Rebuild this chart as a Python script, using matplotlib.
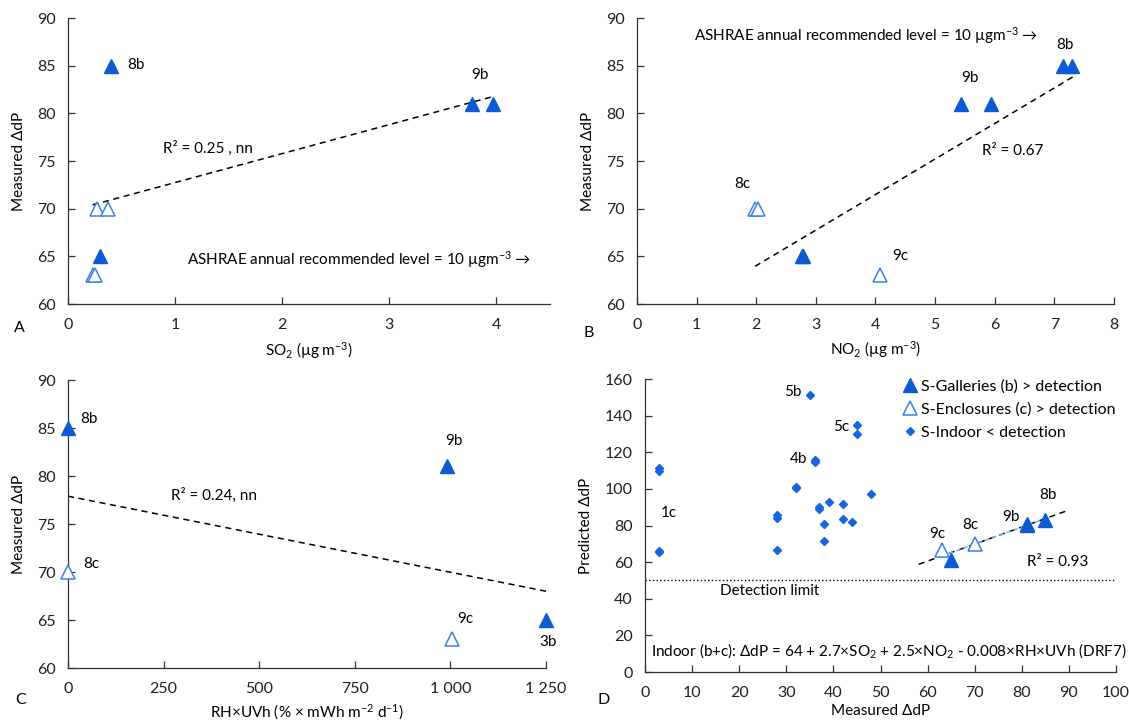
import numpy as np
import matplotlib
matplotlib.use("Agg")
import matplotlib.pyplot as plt
from matplotlib.lines import Line2D

plt.rcParams['font.family'] = ['Lato', 'DejaVu Sans']
plt.rcParams['font.size'] = 11
plt.rcParams['mathtext.fontset'] = 'custom'
plt.rcParams['mathtext.rm'] = 'Lato'
plt.rcParams['mathtext.it'] = 'Lato:italic'
plt.rcParams['mathtext.bf'] = 'Lato:bold'

# ---- data ----
# A: SO2 vs measured dP
a_b_so2 = [0.40, 3.77, 3.97, 0.30]
a_b_dp = [85, 81, 81, 65]
a_c_so2 = [0.27, 0.37, 0.23, 0.25]
a_c_dp = [70, 70, 63, 63]
a_trend_x = [0.23, 3.98]
a_trend_y = [70.4, 81.8]

# B: NO2 vs measured dP
b_b_no2 = [7.14, 7.29, 5.44, 5.94, 2.76, 2.78]
b_b_dp = [85, 85, 81, 81, 65, 65]
b_c_no2 = [1.98, 2.03, 4.07]
b_c_dp = [70, 70, 63]
b_trend_x = [1.98, 7.32]
b_trend_y = [63.95, 83.86]

# C: RH x UVh vs measured dP
c_b_rh = [0, 991, 1250]
c_b_dp = [85, 81, 65]
c_c_rh = [0, 1005]
c_c_dp = [70, 63]
c_trend_x = [0, 1250]
c_trend_y = [77.9, 68.0]
c_ticks = [0, 250, 500, 750, 1000, 1250]
c_ticklabels = ['0', '250', '500', '750', '1 000', '1 250']

# D: measured vs predicted dP
d_b_meas = [65, 81, 81, 85]
d_b_pred = [61.3, 80.3, 80.8, 83.2]
d_c_meas = [63, 70]
d_c_pred = [66.8, 70.1]
d_in_meas = [3, 3, 3, 3, 35, 45, 45, 36, 36, 32, 32, 48, 28, 28, 28,
             37, 37, 39, 42, 42, 38, 38, 44]
d_in_pred = [111.5, 109.5, 66, 65.3, 151, 135, 130, 116, 114.7, 101, 100.6, 97,
             86, 84.3, 66.8, 90.2, 89, 93, 91.6, 83.5, 80.6, 71.4, 81.7]
d_trend_x = [58.1, 89.4]
d_trend_y = [58.8, 87.9]
detection = 50

blue = '#0b5bd8'
blue_open = '#3c7fe8'
blue_dia = '#1464e6'
axc = '#303030'


def style(ax):
    ax.spines['top'].set_visible(False)
    ax.spines['right'].set_visible(False)
    for s in ['left', 'bottom']:
        ax.spines[s].set_color(axc)
        ax.spines[s].set_linewidth(0.9)
    ax.tick_params(direction='in', length=5, width=0.9, color=axc, labelsize=11.5,
                   labelcolor='#202020')
    ax.tick_params(axis='x', pad=10)
    ax.tick_params(axis='y', pad=9)


def filled(ax, x, y):
    ax.plot(x, y, '^', color=blue, ms=10, mec=blue, ls='none', clip_on=False, zorder=3)


def opened(ax, x, y):
    ax.plot(x, y, '^', mfc='white', mec=blue_open, mew=1.1, ms=10, ls='none',
            clip_on=False, zorder=3)


def trend(ax, x, y):
    ax.plot(x, y, color='black', ls=(0, (4, 3)), lw=1.1, zorder=2)


fig = plt.figure(figsize=(11.29, 7.24), dpi=100)
axA = fig.add_axes([0.0602, 0.5801, 0.4270, 0.3950])
axB = fig.add_axes([0.5642, 0.5801, 0.4225, 0.3950])
axC = fig.add_axes([0.0602, 0.0773, 0.4234, 0.3978])
axD = fig.add_axes([0.5713, 0.0718, 0.4172, 0.4047])

# ---- A ----
trend(axA, a_trend_x, a_trend_y)
filled(axA, a_b_so2, a_b_dp)
opened(axA, a_c_so2, a_c_dp)
axA.set_xlim(0, 4.5)
axA.set_ylim(60, 90)
axA.set_xticks([0, 1, 2, 3, 4])
axA.set_yticks(range(60, 91, 5))
axA.text(0.55, 85.1, '8b', va='center')
axA.text(3.85, 84.0, '9b', ha='center', va='center')
axA.text(0.89, 76.3, 'R² = 0.25 , nn', va='center')
axA.text(1.11, 64.7, 'ASHRAE annual recommended level = 10 µgm$^{-3}$ →', va='center')
axA.set_xlabel('SO$_2$ (µg m$^{-3}$)', labelpad=6)
axA.set_ylabel('Measured ΔdP', labelpad=8)

# ---- B ----
trend(axB, b_trend_x, b_trend_y)
filled(axB, b_b_no2, b_b_dp)
opened(axB, b_c_no2, b_c_dp)
axB.set_xlim(0, 8)
axB.set_ylim(60, 90)
axB.set_xticks(range(0, 9))
axB.set_yticks(range(60, 91, 5))
axB.text(0.96, 88.2, 'ASHRAE annual recommended level = 10 µgm$^{-3}$ →', va='center')
axB.text(7.18, 87.2, '8b', ha='center', va='center')
axB.text(5.59, 83.7, '9b', ha='center', va='center')
axB.text(5.79, 76.0, 'R² = 0.67', va='center')
axB.text(1.76, 72.6, '8c', ha='center', va='center')
axB.text(4.42, 65.0, '9c', ha='center', va='center')
axB.set_xlabel('NO$_2$ (µg m$^{-3}$)', labelpad=5)
axB.set_ylabel('Measured ΔdP', labelpad=8)

# ---- C ----
trend(axC, c_trend_x, c_trend_y)
filled(axC, c_b_rh, c_b_dp)
opened(axC, c_c_rh, c_c_dp)
axC.set_xlim(0, 1250)
axC.set_ylim(60, 90)
axC.set_xticks(c_ticks)
axC.set_xticklabels(c_ticklabels)
axC.set_yticks(range(60, 91, 5))
axC.text(33, 85.9, '8b', va='center')
axC.text(40, 70.8, '8c', va='center')
axC.text(1010, 83.7, '9b', ha='center', va='center')
axC.text(1040, 65.1, '9c', ha='center', va='center')
axC.text(1255, 62.7, '3b', ha='center', va='center')
axC.text(270, 78.0, 'R² = 0.24, nn', va='center')
axC.set_xlabel('RH×UVh (% × mWh m$^{-2}$ d$^{-1}$)', labelpad=5)
axC.set_ylabel('Measured ΔdP', labelpad=8)

# ---- D ----
axD.axhline(detection, color='black', ls=':', lw=1.0, zorder=1)
trend(axD, d_trend_x, d_trend_y)
seg_x = np.array([63, 85])
seg_y = np.interp(seg_x, d_trend_x, d_trend_y)
axD.plot(seg_x, seg_y, color='#7fb2f0', ls=(0, (3, 2)), lw=1.1, zorder=2)
axD.plot(d_in_meas, d_in_pred, 'D', color=blue_dia, ms=4.2, ls='none', zorder=3)
filled(axD, d_b_meas, d_b_pred)
opened(axD, d_c_meas, d_c_pred)
axD.set_xlim(0, 100)
axD.set_ylim(0, 160)
axD.set_xticks(range(0, 101, 10))
axD.set_yticks(range(0, 161, 20))
axD.text(33.3, 152.9, '5b', ha='right', va='center')
axD.text(43.3, 133.8, '5c', ha='right', va='center')
axD.text(34.4, 116.3, '4b', ha='right', va='center')
axD.text(5.1, 86.8, '1c', ha='center', va='center')
axD.text(62.0, 75.5, '9c', ha='center', va='center')
axD.text(69.1, 80.5, '8c', ha='center', va='center')
axD.text(77.6, 84.6, '9b', ha='center', va='center')
axD.text(85.6, 96.5, '8b', ha='center', va='center')
axD.text(81.0, 60.1, 'R² = 0.93', va='center')
axD.text(15.9, 44.2, 'Detection limit', va='center')
axD.text(1.2, 11.8, 'Indoor (b+c): ΔdP = 64 + 2.7×SO$_2$ + 2.5×NO$_2$ - 0.008×RH×UVh (DRF7)',
         va='center')
axD.set_xlabel('Measured ΔdP', labelpad=3)
axD.set_ylabel('Predicted ΔdP', labelpad=8)

handles = [
    Line2D([], [], marker='^', color=blue, ms=10, ls='none'),
    Line2D([], [], marker='^', mfc='white', mec=blue_open, mew=1.1, ms=10, ls='none'),
    Line2D([], [], marker='D', color=blue_dia, ms=4.2, ls='none'),
]
axD.legend(handles, ['S-Galleries (b) > detection', 'S-Enclosures (c) > detection',
                     'S-Indoor < detection'],
           loc='upper left', bbox_to_anchor=(0.535, 1.02), frameon=False,
           handlelength=0.8, handletextpad=0.3, labelspacing=0.55, fontsize=11.5,
           borderaxespad=0)

for ax in [axA, axB, axC, axD]:
    style(ax)

fig.text(0.0124, 0.547, 'A', ha='left', va='center', fontsize=11.5)
fig.text(0.517, 0.540, 'B', ha='left', va='center', fontsize=11.5)
fig.text(0.0133, 0.033, 'C', ha='left', va='center', fontsize=11.5)
fig.text(0.529, 0.033, 'D', ha='left', va='center', fontsize=11.5)

fig.savefig('out.png', dpi=100)
